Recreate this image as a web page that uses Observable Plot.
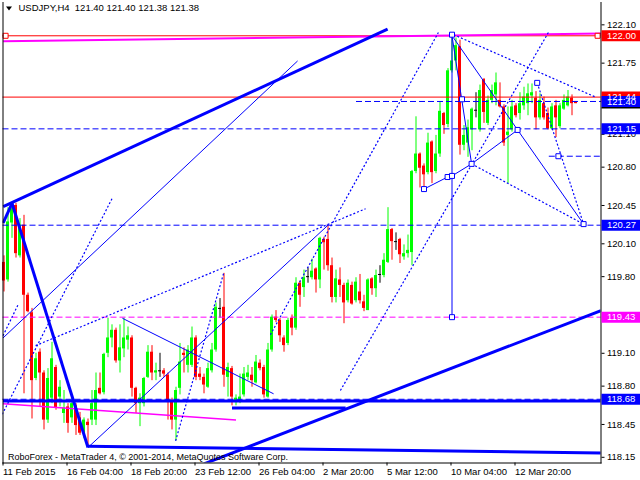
<!DOCTYPE html>
<html><head><meta charset="utf-8">
<script src="https://cdn.jsdelivr.net/npm/d3@7"></script>
<script src="https://cdn.jsdelivr.net/npm/@observablehq/plot@0.6"></script>
<style>body{margin:0;background:#fff;} svg{display:block;}</style>
</head><body><div id="chart"></div>
<script>
// ---- candle data (USDJPY H4), bar index 0..143 ----
const opens = [119.93,119.77,120.29,120.45,119.99,120.27,119.63,119.47,118.87,119.11,118.92,118.49,118.69,118.97,118.70,118.55,118.61,118.51,118.62,118.51,
118.37,118.47,118.49,118.49,118.78,118.74,119.10,119.24,119.31,119.03,119.14,119.22,119.24,118.78,118.64,118.64,118.88,119.11,118.92,118.94,
118.94,118.90,118.67,118.49,118.78,119.10,118.99,118.99,119.24,118.91,118.88,118.79,118.94,119.13,119.51,119.52,118.88,118.96,118.65,118.67,
118.72,118.88,118.90,118.83,119.01,118.97,118.70,119.13,119.43,119.40,119.24,119.19,119.42,119.33,119.74,119.70,119.80,119.79,119.87,119.77,
120.14,120.14,119.90,119.61,119.77,119.72,119.58,119.72,119.58,119.66,119.57,119.49,119.78,119.69,119.82,119.81,119.93,120.23,120.12,120.14,
119.98,120.01,120.02,120.76,120.92,120.81,120.75,121.03,120.76,120.92,121.29,121.19,121.68,121.77,121.90,121.00,121.02,121.14,121.32,121.14,
121.60,121.20,121.41,121.46,121.41,121.35,121.09,121.14,121.36,121.29,121.36,121.38,121.45,121.43,121.25,121.38,121.29,121.15,121.36,121.17,
121.33,121.36,121.43,121.40];
const highs = [119.99,120.43,120.47,120.47,120.33,120.36,119.65,119.51,119.10,119.14,118.94,118.96,119.20,118.99,118.85,118.76,118.64,118.72,118.64,118.56,
118.51,118.50,118.76,118.92,118.92,119.10,119.42,119.36,119.33,119.36,119.42,119.34,119.26,118.79,118.73,118.88,119.17,119.17,119.01,119.10,
118.96,118.92,118.69,118.79,119.19,119.15,119.17,119.34,119.26,118.97,118.91,119.01,119.19,119.56,119.60,119.83,119.01,118.98,118.72,118.91,
118.97,118.99,118.97,119.08,119.04,118.99,119.19,119.45,119.49,119.42,119.26,119.42,119.45,119.79,119.76,119.86,119.88,119.96,119.88,120.16,
120.16,120.27,119.97,119.86,119.88,119.74,119.77,119.75,119.79,119.82,119.63,119.78,119.79,119.86,119.90,120.01,120.43,120.24,120.20,120.15,
120.09,120.18,120.77,121.26,120.93,120.83,121.11,121.04,121.09,121.39,121.30,121.70,122.02,121.98,121.96,121.18,121.23,121.34,121.48,121.55,
121.61,121.45,121.55,121.66,121.57,121.37,121.35,121.41,121.38,121.48,121.53,121.56,121.56,121.49,121.47,121.44,121.34,121.38,121.41,121.38,
121.46,121.50,121.46,121.40];
const lows = [119.66,119.75,120.15,119.97,119.97,118.73,119.47,118.50,118.85,118.61,118.40,118.46,118.64,118.58,118.61,118.46,118.37,118.46,118.35,118.35,
118.32,118.24,118.44,118.44,118.72,118.72,119.06,119.15,119.01,118.92,119.06,119.13,118.70,118.55,118.43,118.61,118.87,118.85,118.85,118.88,
118.88,118.49,118.40,118.30,118.72,118.92,118.92,118.97,118.85,118.85,118.73,118.78,118.92,119.11,119.42,118.79,118.70,118.62,118.62,118.64,
118.70,118.85,118.79,118.82,118.94,118.69,118.69,119.11,119.38,119.20,119.11,119.17,119.26,119.31,119.52,119.61,119.74,119.77,119.65,119.69,
119.86,119.85,119.56,119.56,119.61,119.37,119.56,119.54,119.56,119.55,119.48,119.49,119.63,119.61,119.74,119.79,119.92,119.95,120.04,119.92,
119.95,119.97,119.90,120.74,120.61,120.59,120.73,120.65,120.74,120.89,121.10,121.16,121.66,121.68,120.91,120.95,120.89,120.95,121.25,121.12,
121.20,121.18,121.38,121.36,121.34,120.99,120.65,121.12,121.25,121.23,121.32,121.27,121.38,121.14,121.23,121.23,121.14,121.14,121.07,121.15,
121.32,121.35,121.27,121.38];
const closes = [119.76,120.30,120.42,120.01,120.27,119.63,119.48,118.85,119.05,118.92,118.49,118.87,119.05,118.60,118.79,118.60,118.46,118.64,118.44,118.37,
118.49,118.44,118.64,118.76,118.73,119.09,119.24,119.31,119.03,119.15,119.24,119.26,118.78,118.64,118.69,118.87,119.11,118.92,118.94,118.94,
118.91,118.65,118.49,118.76,119.02,119.08,119.13,119.24,118.88,118.88,118.81,118.96,119.13,119.52,119.51,118.90,118.97,118.70,118.69,118.70,
118.91,118.92,118.85,119.02,118.96,118.72,119.13,119.43,119.40,119.26,119.17,119.40,119.33,119.74,119.63,119.79,119.80,119.85,119.77,120.15,
120.11,119.90,119.61,119.78,119.72,119.56,119.74,119.55,119.75,119.58,119.51,119.77,119.69,119.81,119.82,119.95,120.23,120.12,120.12,120.00,
120.01,120.04,120.76,120.92,120.79,120.73,121.02,120.75,120.92,121.31,121.18,121.68,121.77,121.91,121.00,121.09,121.16,121.33,121.32,121.50,
121.30,121.41,121.50,121.57,121.35,121.02,121.12,121.35,121.27,121.38,121.44,121.47,121.48,121.25,121.41,121.25,121.15,121.35,121.25,121.36,
121.41,121.44,121.38,121.38];

// ---- axis ticks ----
const xTickIdx = [0,16,32,48,64,80,96,112,128];
const xTickLabels = ["11 Feb 2015","16 Feb 04:00","18 Feb 20:00","23 Feb 12:00","26 Feb 04:00","2 Mar 20:00","5 Mar 12:00","10 Mar 04:00","12 Mar 20:00"];
const yTicks = [122.10,121.75,121.10,120.80,120.45,120.10,119.80,119.10,118.80,118.45,118.15];

// ---- horizontal levels ----
const solidLevels = [122.00,121.44];               // red, full width
const dashedLevels = [121.15,120.27,119.43,118.68]; // dashed, full width
const dashedColors = ["#0000ff","#0000ff","#ff00ff","#0000ff"];
const labelPrices = [122.00,121.44,121.40,121.15,120.27,119.43,118.68];
const labelColors = ["#ff0000","#ff0000","#0000ff","#0000ff","#0000ff","#ff00ff","#0000ff"];
const askPrice = [121.40];

// ---- drawn objects: segments (bar index, price) ----
const thickX1 = [-0.2, 2, -0.2, 21, 57, 50, -0.25];
const thickY1 = [120.29,120.47,120.44,118.25,118.60,118.09,118.665];
const thickX2 = [2, 21, 95.9, 149.25, 85.4, 149.25, 149.25];
const thickY2 = [120.47,118.24,122.06,118.19,118.60,119.49,118.665];

const thinX1 = [21, 29.6, -0.25, 105, 110.9, 112, 112, 112.4, 128.4, 112, 116.9];
const thinY1 = [118.24,119.42,119.24,120.60,120.71,120.72,122.00,121.98,121.14,122.01,120.83];
const thinX2 = [81, 67.4, 73.4, 110.9, 112, 116.9, 116.9, 128.4, 144.9, 112, 128.4];
const thinY2 = [120.27,118.73,121.77,120.71,120.72,120.83,120.83,121.14,120.28,119.43,121.14];

const dotX1 = [-0.9, 7.9, 42.9, 66.6, 84.1, 112.4, 116.9, 133.3, -0.25];
const dotY1 = [118.51,119.17,118.30,119.27,118.76,122.01,120.83,121.57,119.26];
const dotX2 = [27.1, 90.4, 54.9, 108.6, 136.1, 147.9, 144.9, 144.9, 3.6];
const dotY2 = [120.52,120.42,119.83,122.03,122.03,121.44,120.28,120.28,119.55];

const dashX1 = [136.2, 88];
const dashY1 = [120.90, 121.40];
const dashX2 = [149.25, 149.25];

const magX1 = [-0.2, -0.25];
const magY1 = [121.95, 118.64];
const magX2 = [149.25, 58];
const magY2 = [122.02, 118.49];
const magW  = [2, 1.5];

const sqX = [105,110.9,112,116.9,112,112,114.5,128.4,133.3,144.9,138.6];
const sqY = [120.60,120.71,120.72,120.83,122.01,119.43,121.42,121.14,121.57,120.28,120.90];
const redSqX = [0.4,148.4];
const redSqY = [122.00,122.00];

const titleText = "USDJPY,H4  121.40 121.40 121.38 121.38";
const creditText = "RoboForex - MetaTrader 4, © 2001-2014, MetaQuotes Software Corp.";

// ---- build tables ----
const candles = opens.map((o,i)=>({i, o, h:highs[i], l:lows[i], c:closes[i],
  col: closes[i] > o ? "#00ff00" : (closes[i] < o ? "#ff0000" : "#000000")}));
const bodies = candles.filter(d=>d.o!==d.c);
const dojis = candles.filter(d=>d.o===d.c);
const seg = (X1,Y1,X2,Y2)=>X1.map((x,k)=>({x1:x,y1:Y1[k],x2:X2[k],y2:Y2[k]}));
const thick = seg(thickX1,thickY1,thickX2,thickY2);
const thin = seg(thinX1,thinY1,thinX2,thinY2);
const dots = seg(dotX1,dotY1,dotX2,dotY2);
const dashes = seg(dashX1,dashY1,dashX2,dashY1);
const mags = seg(magX1,magY1,magX2,magY2).map((d,k)=>({...d,w:magW[k]}));
const dashedTable = dashedLevels.map((v,k)=>({v, col:dashedColors[k]}));
const labels = labelPrices.map((v,k)=>({v, col:labelColors[k], label:v.toFixed(2)}));
const squares = sqX.map((x,k)=>({x,y:sqY[k]}));
const redSquares = redSqX.map((x,k)=>({x,y:redSqY[k]}));

const labelBox = {draw(ctx){ctx.moveTo(-19.5,-5.5);ctx.lineTo(19.5,-5.5);ctx.lineTo(19.5,5.5);ctx.lineTo(-19.5,5.5);ctx.closePath();}};
const underBar = {draw(ctx){ctx.moveTo(-19.5,5.5);ctx.lineTo(19.5,5.5);ctx.lineTo(19.5,7);ctx.lineTo(-19.5,7);ctx.closePath();}};
const downTri = {draw(ctx){ctx.moveTo(-3,-2);ctx.lineTo(3,-2);ctx.lineTo(0,2);ctx.closePath();}};
const sq = {draw(ctx){ctx.moveTo(-2.5,-2.5);ctx.lineTo(2.5,-2.5);ctx.lineTo(2.5,2.5);ctx.lineTo(-2.5,2.5);ctx.closePath();}};

const chart = Plot.plot({
  width: 640, height: 480,
  marginTop: 2, marginBottom: 17.5, marginLeft: 2.5, marginRight: 39.5,
  style: {fontFamily: "'Liberation Sans', Arial, sans-serif", fontSize: "9.5px", color: "#000", background: "#fff"},
  x: {type: "linear", domain: [-0.25, 149.25]},
  y: {type: "linear", domain: [118.098, 122.304]},
  color: {type: "identity"},
  marks: [
    // candles
    Plot.ruleX(candles, {x: "i", y1: "l", y2: "h", stroke: "col", strokeWidth: 1}),
    Plot.rect(bodies, {x1: d=>d.i-0.375, x2: d=>d.i+0.375, y1: "o", y2: "c", fill: "col"}),
    Plot.ruleY(dojis, {x1: d=>d.i-0.375, x2: d=>d.i+0.375, y: "o", stroke: "col"}),
    // levels
    Plot.ruleY(solidLevels, {stroke: "#ff0000", strokeWidth: 1}),
    Plot.ruleY(dashedTable, {y: "v", stroke: "col", strokeDasharray: "6,3", strokeWidth: 1}),
    Plot.link(mags, {x1:"x1",y1:"y1",x2:"x2",y2:"y2", stroke:"#ff00ff", strokeWidth: "w"}),
    Plot.link(thick, {x1:"x1",y1:"y1",x2:"x2",y2:"y2", stroke:"#0000ff", strokeWidth: 3, clip: true}),
    Plot.link(thin, {x1:"x1",y1:"y1",x2:"x2",y2:"y2", stroke:"#0000ff", strokeWidth: 1, clip: true}),
    Plot.link(dots, {x1:"x1",y1:"y1",x2:"x2",y2:"y2", stroke:"#0000ff", strokeWidth: 1.2, strokeDasharray:"2,2", clip: true}),
    Plot.link(dashes, {x1:"x1",y1:"y1",x2:"x2",y2:"y2", stroke:"#0000ff", strokeWidth: 1, strokeDasharray:"6,3"}),
    Plot.dot(squares, {x:"x", y:"y", symbol: sq, stroke:"#0000ff", fill:"#fff", strokeWidth: 1}),
    Plot.dot(redSquares, {x:"x", y:"y", symbol: sq, stroke:"#ff0000", fill:"#fff", strokeWidth: 1}),
    // frame
    Plot.frame({anchor: "left", stroke: "#000"}),
    Plot.frame({anchor: "right", stroke: "#000"}),
    Plot.frame({anchor: "bottom", stroke: "#000"}),
    // axes
    Plot.axisY({anchor: "right", ticks: yTicks, tickFormat: d=>d.toFixed(2), tickSize: 3, tickPadding: 3}),
    Plot.axisX({ticks: xTickIdx, tickFormat: d=>xTickLabels[xTickIdx.indexOf(d)], tickSize: 3, tickPadding: 2, textAnchor: "start", dx: -1}),
    // level labels
    Plot.dot(labels, {y: "v", frameAnchor: "right", dx: 20, symbol: labelBox, fill: "col", r: 5}),
    Plot.text(labels, {y: "v", text: "label", frameAnchor: "right", dx: 6, textAnchor: "start", fill: "#fff"}),
    Plot.dot(askPrice, {y: d=>d, frameAnchor: "right", dx: 20, symbol: underBar, fill: "#000", r: 5}),
    // title & credit
    Plot.dot([0], {frameAnchor: "top-left", dx: 6, dy: 6, symbol: downTri, fill: "#000", r: 3}),
    Plot.text([titleText], {frameAnchor: "top-left", dx: 15.5, dy: 2, textAnchor: "start", lineAnchor: "top", fill: "#000"}),
    Plot.text([creditText], {frameAnchor: "bottom-left", dx: 5, dy: -3.5, textAnchor: "start", lineAnchor: "bottom", fill: "#000", fontSize: 9})
  ]
});
document.getElementById("chart").appendChild(chart);
</script>
</body></html>
